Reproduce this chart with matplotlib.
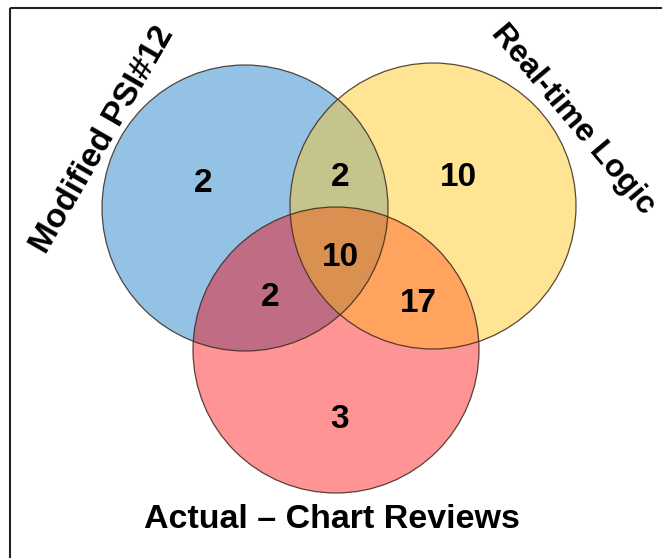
import numpy as np
import matplotlib.pyplot as plt
from matplotlib.patches import Circle, Rectangle, Polygon

set_names = ['Modified PSI#12', 'Real-time Logic', 'Actual \u2013 Chart Reviews']
# region counts: only A, only B, A&B, only C, A&C, B&C, A&B&C
region_keys = ['A', 'B', 'AB', 'C', 'AC', 'BC', 'ABC']
region_counts = [2, 10, 2, 3, 2, 17, 10]

# circle layout (pixel space of the figure)
centers = {'A': (245, 208), 'B': (433, 206), 'C': (336, 350)}
r = 143

single_col = {'A': '#94c2e4', 'B': '#ffe494', 'C': '#ff9494'}
pair_col = {'AB': '#c4c48c', 'AC': '#c06c84', 'BC': '#ffa35e'}
triple_col = '#d99050'

plt.rcParams['font.family'] = ['Liberation Sans', 'DejaVu Sans']

fig = plt.figure(figsize=(6.62, 5.58), dpi=100)
ax = fig.add_axes([0, 0, 1, 1])
ax.set_xlim(0, 662)
ax.set_ylim(558, 0)
ax.set_aspect('equal')
ax.axis('off')

# outer frame
ax.add_patch(Rectangle((10, 8), 700, 600, fill=False, ec='#222222', lw=1.5))

# single circles
for k in ['A', 'B', 'C']:
    ax.add_patch(Circle(centers[k], r, fc=single_col[k], ec='none'))

# pairwise lenses: circle of first clipped by circle of second
for k, col in pair_col.items():
    clip = Circle(centers[k[1]], r, transform=ax.transData)
    p = Circle(centers[k[0]], r, fc=col, ec='none')
    ax.add_patch(p)
    p.set_clip_path(clip)

# triple region (convex): boundary points of each circle lying inside the other two
t = np.linspace(0, 2 * np.pi, 2000)
pts = []
for k in ['A', 'B', 'C']:
    cx, cy = centers[k]
    xy = np.column_stack([cx + r * np.cos(t), cy + r * np.sin(t)])
    inside = np.ones(len(t), bool)
    for o in ['A', 'B', 'C']:
        if o != k:
            ox, oy = centers[o]
            inside &= (xy[:, 0] - ox) ** 2 + (xy[:, 1] - oy) ** 2 <= r ** 2 + 1e-6
    pts.append(xy[inside])
pts = np.vstack(pts)
m = pts.mean(axis=0)
pts = pts[np.argsort(np.arctan2(pts[:, 1] - m[1], pts[:, 0] - m[0]))]
ax.add_patch(Polygon(pts, closed=True, fc=triple_col, ec='none'))

# outlines
for k in ['A', 'B', 'C']:
    ax.add_patch(Circle(centers[k], r, fill=False, ec='#3a2a20', lw=0.9, alpha=0.85))

# counts
label_pos = {'A': (203, 183), 'B': (458, 178), 'AB': (340, 178), 'C': (340, 420),
             'AC': (270, 298), 'BC': (418, 303), 'ABC': (340, 258)}
for k, n in zip(region_keys, region_counts):
    ax.text(*label_pos[k], str(n), ha='center', va='center', fontsize=24,
            fontweight='bold', color='black')

# set names
ax.text(103, 140, set_names[0], rotation=60, ha='center', va='center',
        fontsize=24, fontweight='bold', rotation_mode='anchor')
ax.text(573, 120, set_names[1], rotation=-50, ha='center', va='center',
        fontsize=23, fontweight='bold', rotation_mode='anchor')
ax.text(332, 520, set_names[2], ha='center', va='center',
        fontsize=24.5, fontweight='bold')

fig.savefig('out.png', dpi=100)
